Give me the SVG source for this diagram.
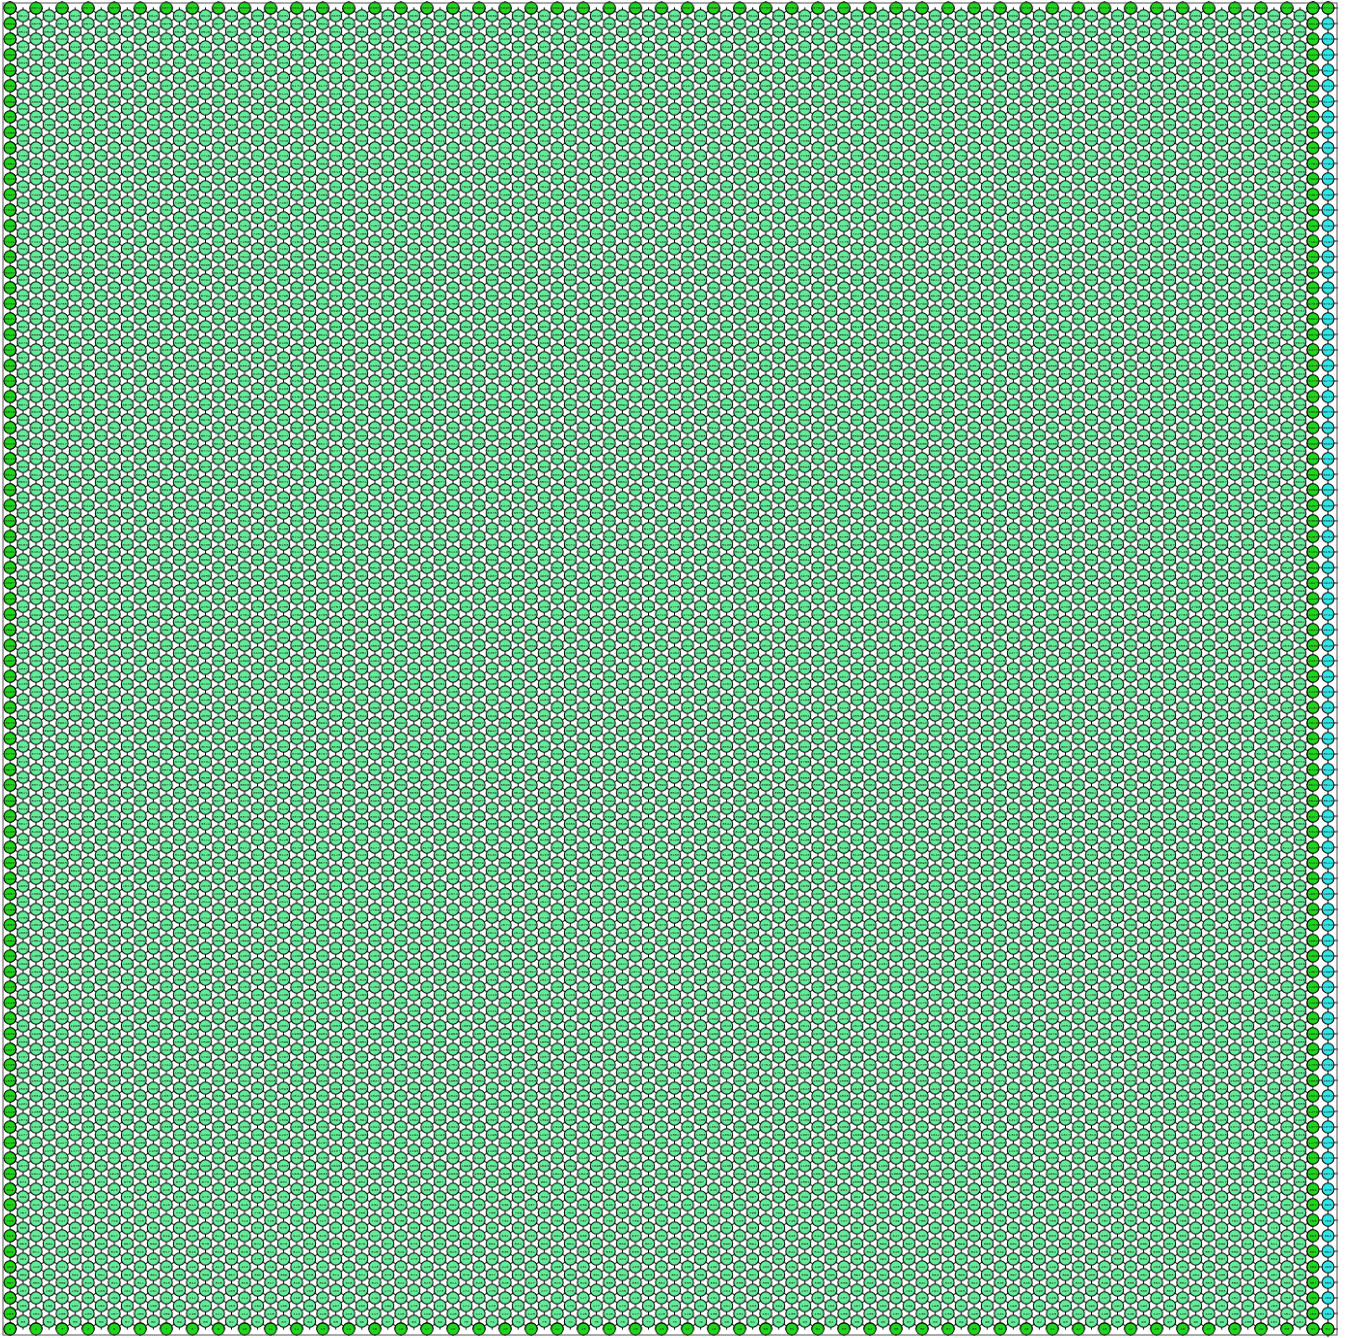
<svg xmlns="http://www.w3.org/2000/svg" width="1348" height="1338" viewBox="0 0 1348 1338">
<defs>
<style>
.e{stroke:#000;stroke-width:1;fill:none}
.n{stroke:#000;stroke-width:1}
.l{fill:#62ec9a}
.g{fill:#1fd61f}
.c{fill:#2ee6e6}
#labels{font-family:"Liberation Mono","DejaVu Sans Mono",monospace;font-size:4px;fill:#2a2a2a;word-spacing:14.06px}
.w1{word-spacing:21.26px}
.w2{word-spacing:18.86px}
.w3{word-spacing:16.46px}
.w4{word-spacing:14.06px}
</style>
<pattern id="lat" patternUnits="userSpaceOnUse" x="10" y="8" width="26.06" height="15.5412">
<path class="e" d="M0 0V15.5412M26.06 0V15.5412M13.03 0V15.5412M0 0L26.06 15.5412M26.06 0L0 15.5412"/>
<g class="n l">
<circle cx="0" cy="0" r="6"/><circle cx="26.06" cy="0" r="6"/><circle cx="0" cy="15.5412" r="6"/><circle cx="26.06" cy="15.5412" r="6"/><circle cx="13.03" cy="7.7706" r="6"/>
</g>
</pattern>
<pattern id="lcol" patternUnits="userSpaceOnUse" x="3" y="8" width="14" height="15.5412">
<path class="e" d="M0 0H7M0 15.5412H7"/>
<g class="n g"><circle cx="7" cy="0" r="6"/><circle cx="7" cy="15.5412" r="6"/></g>
</pattern>
<pattern id="rcol" patternUnits="userSpaceOnUse" x="1306" y="8" width="32" height="15.5412">
<path class="e" d="M7 0H32M7 15.5412H32M22 0V15.5412"/>
<g class="n g"><circle cx="7" cy="0" r="6"/><circle cx="7" cy="15.5412" r="6"/></g>
<g class="n c"><circle cx="22" cy="0" r="6"/><circle cx="22" cy="15.5412" r="6"/></g>
</pattern>
<pattern id="trow" patternUnits="userSpaceOnUse" x="10" y="1" width="26.06" height="14">
<path class="e" d="M0 0V7M26.06 0V7"/>
<g class="n g"><circle cx="0" cy="7" r="6"/><circle cx="26.06" cy="7" r="6"/></g>
</pattern>
<pattern id="brow" patternUnits="userSpaceOnUse" x="10" y="1322" width="26.06" height="14">
<path class="e" d="M0 7V14M26.06 7V14"/>
<g class="n g"><circle cx="0" cy="7" r="6"/><circle cx="26.06" cy="7" r="6"/></g>
</pattern>
</defs>
<rect x="0" y="0" width="1348" height="1338" fill="#fff"/>
<g id="connectors">
<rect x="9.4" y="7.4" width="1304.2" height="1322.2" fill="url(#lat)"/>
</g>
<g id="boundary">
<rect x="3" y="1" width="14" height="1336" fill="url(#lcol)"/>
<rect x="1306" y="1" width="32" height="1336" fill="url(#rcol)"/>
<rect x="3" y="1" width="1317" height="14" fill="url(#trow)"/>
<rect x="3" y="1322" width="1317" height="14" fill="url(#brow)"/>
<circle class="n g" cx="1328" cy="8" r="6"/>
<circle class="n g" cx="1328" cy="1329" r="6"/>
</g>
<rect x="3" y="3" width="1334" height="1332" fill="none" stroke="#555" stroke-width="1"/>
<g id="labels">
<text class="w1" x="8.8" y="1330.4">1 2 3 4 5 6 7 8 9<tspan class="w2" x="242.14">10 11 12 13 14 15 16 17 18 19 20 21 22 23 24 25 26 27 28 29 30 31 32 33 34 35 36 37 38 39 40 41 42 43 44 45 46 47 48 49 50 51</tspan><tspan x="1325.6">52</tspan></text>
<text class="w2" x="20.63" y="1322.63">53 54 55 56 57 58 59 60 61 62 63 64 65 66 67 68 69 70 71 72 73 74 75 76 77 78 79 80 81 82 83 84 85 86 87 88 89 90 91 92 93 94 95 96 97 98 99<tspan class="w3" x="1244.25">100 101 102</tspan></text>
<text class="w3" x="6.4" y="1314.86">103 104 105 106 107 108 109 110 111 112 113 114 115 116 117 118 119 120 121 122 123 124 125 126 127 128 129 130 131 132 133 134 135 136 137 138 139 140 141 142 143 144 145 146 147 148 149 150 151 152 153<tspan x="1324.4">154</tspan></text>
<text class="w3" x="19.43" y="1307.09">155 156 157 158 159 160 161 162 163 164 165 166 167 168 169 170 171 172 173 174 175 176 177 178 179 180 181 182 183 184 185 186 187 188 189 190 191 192 193 194 195 196 197 198 199 200 201 202 203 204</text>
<text class="w3" x="6.4" y="1299.32">205 206 207 208 209 210 211 212 213 214 215 216 217 218 219 220 221 222 223 224 225 226 227 228 229 230 231 232 233 234 235 236 237 238 239 240 241 242 243 244 245 246 247 248 249 250 251 252 253 254 255<tspan x="1324.4">256</tspan></text>
<text class="w3" x="19.43" y="1291.55">257 258 259 260 261 262 263 264 265 266 267 268 269 270 271 272 273 274 275 276 277 278 279 280 281 282 283 284 285 286 287 288 289 290 291 292 293 294 295 296 297 298 299 300 301 302 303 304 305 306</text>
<text class="w3" x="6.4" y="1283.78">307 308 309 310 311 312 313 314 315 316 317 318 319 320 321 322 323 324 325 326 327 328 329 330 331 332 333 334 335 336 337 338 339 340 341 342 343 344 345 346 347 348 349 350 351 352 353 354 355 356 357<tspan x="1324.4">358</tspan></text>
<text class="w3" x="19.43" y="1276.01">359 360 361 362 363 364 365 366 367 368 369 370 371 372 373 374 375 376 377 378 379 380 381 382 383 384 385 386 387 388 389 390 391 392 393 394 395 396 397 398 399 400 401 402 403 404 405 406 407 408</text>
<text class="w3" x="6.4" y="1268.24">409 410 411 412 413 414 415 416 417 418 419 420 421 422 423 424 425 426 427 428 429 430 431 432 433 434 435 436 437 438 439 440 441 442 443 444 445 446 447 448 449 450 451 452 453 454 455 456 457 458 459<tspan x="1324.4">460</tspan></text>
<text class="w3" x="19.43" y="1260.46">461 462 463 464 465 466 467 468 469 470 471 472 473 474 475 476 477 478 479 480 481 482 483 484 485 486 487 488 489 490 491 492 493 494 495 496 497 498 499 500 501 502 503 504 505 506 507 508 509 510</text>
<text class="w3" x="6.4" y="1252.69">511 512 513 514 515 516 517 518 519 520 521 522 523 524 525 526 527 528 529 530 531 532 533 534 535 536 537 538 539 540 541 542 543 544 545 546 547 548 549 550 551 552 553 554 555 556 557 558 559 560 561<tspan x="1324.4">562</tspan></text>
<text class="w3" x="19.43" y="1244.92">563 564 565 566 567 568 569 570 571 572 573 574 575 576 577 578 579 580 581 582 583 584 585 586 587 588 589 590 591 592 593 594 595 596 597 598 599 600 601 602 603 604 605 606 607 608 609 610 611 612</text>
<text class="w3" x="6.4" y="1237.15">613 614 615 616 617 618 619 620 621 622 623 624 625 626 627 628 629 630 631 632 633 634 635 636 637 638 639 640 641 642 643 644 645 646 647 648 649 650 651 652 653 654 655 656 657 658 659 660 661 662 663<tspan x="1324.4">664</tspan></text>
<text class="w3" x="19.43" y="1229.38">665 666 667 668 669 670 671 672 673 674 675 676 677 678 679 680 681 682 683 684 685 686 687 688 689 690 691 692 693 694 695 696 697 698 699 700 701 702 703 704 705 706 707 708 709 710 711 712 713 714</text>
<text class="w3" x="6.4" y="1221.61">715 716 717 718 719 720 721 722 723 724 725 726 727 728 729 730 731 732 733 734 735 736 737 738 739 740 741 742 743 744 745 746 747 748 749 750 751 752 753 754 755 756 757 758 759 760 761 762 763 764 765<tspan x="1324.4">766</tspan></text>
<text class="w3" x="19.43" y="1213.84">767 768 769 770 771 772 773 774 775 776 777 778 779 780 781 782 783 784 785 786 787 788 789 790 791 792 793 794 795 796 797 798 799 800 801 802 803 804 805 806 807 808 809 810 811 812 813 814 815 816</text>
<text class="w3" x="6.4" y="1206.07">817 818 819 820 821 822 823 824 825 826 827 828 829 830 831 832 833 834 835 836 837 838 839 840 841 842 843 844 845 846 847 848 849 850 851 852 853 854 855 856 857 858 859 860 861 862 863 864 865 866 867<tspan x="1324.4">868</tspan></text>
<text class="w3" x="19.43" y="1198.3">869 870 871 872 873 874 875 876 877 878 879 880 881 882 883 884 885 886 887 888 889 890 891 892 893 894 895 896 897 898 899 900 901 902 903 904 905 906 907 908 909 910 911 912 913 914 915 916 917 918</text>
<text class="w3" x="6.4" y="1190.53">919 920 921 922 923 924 925 926 927 928 929 930 931 932 933 934 935 936 937 938 939 940 941 942 943 944 945 946 947 948 949 950 951 952 953 954 955 956 957 958 959 960 961 962 963 964 965 966 967 968 969<tspan x="1324.4">970</tspan></text>
<text class="w3" x="19.43" y="1182.76">971 972 973 974 975 976 977 978 979 980 981 982 983 984 985 986 987 988 989 990 991 992 993 994 995 996 997 998 999<tspan class="w4" x="773.97">1000 1001 1002 1003 1004 1005 1006 1007 1008 1009 1010 1011 1012 1013 1014 1015 1016 1017 1018 1019 1020</tspan></text>
<text x="5.2" y="1174.99">1021 1022 1023 1024 1025 1026 1027 1028 1029 1030 1031 1032 1033 1034 1035 1036 1037 1038 1039 1040 1041 1042 1043 1044 1045 1046 1047 1048 1049 1050 1051 1052 1053 1054 1055 1056 1057 1058 1059 1060 1061 1062 1063 1064 1065 1066 1067 1068 1069 1070 1071<tspan x="1323.2">1072</tspan></text>
<text x="18.23" y="1167.22">1073 1074 1075 1076 1077 1078 1079 1080 1081 1082 1083 1084 1085 1086 1087 1088 1089 1090 1091 1092 1093 1094 1095 1096 1097 1098 1099 1100 1101 1102 1103 1104 1105 1106 1107 1108 1109 1110 1111 1112 1113 1114 1115 1116 1117 1118 1119 1120 1121 1122</text>
<text x="5.2" y="1159.45">1123 1124 1125 1126 1127 1128 1129 1130 1131 1132 1133 1134 1135 1136 1137 1138 1139 1140 1141 1142 1143 1144 1145 1146 1147 1148 1149 1150 1151 1152 1153 1154 1155 1156 1157 1158 1159 1160 1161 1162 1163 1164 1165 1166 1167 1168 1169 1170 1171 1172 1173<tspan x="1323.2">1174</tspan></text>
<text x="18.23" y="1151.68">1175 1176 1177 1178 1179 1180 1181 1182 1183 1184 1185 1186 1187 1188 1189 1190 1191 1192 1193 1194 1195 1196 1197 1198 1199 1200 1201 1202 1203 1204 1205 1206 1207 1208 1209 1210 1211 1212 1213 1214 1215 1216 1217 1218 1219 1220 1221 1222 1223 1224</text>
<text x="5.2" y="1143.91">1225 1226 1227 1228 1229 1230 1231 1232 1233 1234 1235 1236 1237 1238 1239 1240 1241 1242 1243 1244 1245 1246 1247 1248 1249 1250 1251 1252 1253 1254 1255 1256 1257 1258 1259 1260 1261 1262 1263 1264 1265 1266 1267 1268 1269 1270 1271 1272 1273 1274 1275<tspan x="1323.2">1276</tspan></text>
<text x="18.23" y="1136.14">1277 1278 1279 1280 1281 1282 1283 1284 1285 1286 1287 1288 1289 1290 1291 1292 1293 1294 1295 1296 1297 1298 1299 1300 1301 1302 1303 1304 1305 1306 1307 1308 1309 1310 1311 1312 1313 1314 1315 1316 1317 1318 1319 1320 1321 1322 1323 1324 1325 1326</text>
<text x="5.2" y="1128.36">1327 1328 1329 1330 1331 1332 1333 1334 1335 1336 1337 1338 1339 1340 1341 1342 1343 1344 1345 1346 1347 1348 1349 1350 1351 1352 1353 1354 1355 1356 1357 1358 1359 1360 1361 1362 1363 1364 1365 1366 1367 1368 1369 1370 1371 1372 1373 1374 1375 1376 1377<tspan x="1323.2">1378</tspan></text>
<text x="18.23" y="1120.59">1379 1380 1381 1382 1383 1384 1385 1386 1387 1388 1389 1390 1391 1392 1393 1394 1395 1396 1397 1398 1399 1400 1401 1402 1403 1404 1405 1406 1407 1408 1409 1410 1411 1412 1413 1414 1415 1416 1417 1418 1419 1420 1421 1422 1423 1424 1425 1426 1427 1428</text>
<text x="5.2" y="1112.82">1429 1430 1431 1432 1433 1434 1435 1436 1437 1438 1439 1440 1441 1442 1443 1444 1445 1446 1447 1448 1449 1450 1451 1452 1453 1454 1455 1456 1457 1458 1459 1460 1461 1462 1463 1464 1465 1466 1467 1468 1469 1470 1471 1472 1473 1474 1475 1476 1477 1478 1479<tspan x="1323.2">1480</tspan></text>
<text x="18.23" y="1105.05">1481 1482 1483 1484 1485 1486 1487 1488 1489 1490 1491 1492 1493 1494 1495 1496 1497 1498 1499 1500 1501 1502 1503 1504 1505 1506 1507 1508 1509 1510 1511 1512 1513 1514 1515 1516 1517 1518 1519 1520 1521 1522 1523 1524 1525 1526 1527 1528 1529 1530</text>
<text x="5.2" y="1097.28">1531 1532 1533 1534 1535 1536 1537 1538 1539 1540 1541 1542 1543 1544 1545 1546 1547 1548 1549 1550 1551 1552 1553 1554 1555 1556 1557 1558 1559 1560 1561 1562 1563 1564 1565 1566 1567 1568 1569 1570 1571 1572 1573 1574 1575 1576 1577 1578 1579 1580 1581<tspan x="1323.2">1582</tspan></text>
<text x="18.23" y="1089.51">1583 1584 1585 1586 1587 1588 1589 1590 1591 1592 1593 1594 1595 1596 1597 1598 1599 1600 1601 1602 1603 1604 1605 1606 1607 1608 1609 1610 1611 1612 1613 1614 1615 1616 1617 1618 1619 1620 1621 1622 1623 1624 1625 1626 1627 1628 1629 1630 1631 1632</text>
<text x="5.2" y="1081.74">1633 1634 1635 1636 1637 1638 1639 1640 1641 1642 1643 1644 1645 1646 1647 1648 1649 1650 1651 1652 1653 1654 1655 1656 1657 1658 1659 1660 1661 1662 1663 1664 1665 1666 1667 1668 1669 1670 1671 1672 1673 1674 1675 1676 1677 1678 1679 1680 1681 1682 1683<tspan x="1323.2">1684</tspan></text>
<text x="18.23" y="1073.97">1685 1686 1687 1688 1689 1690 1691 1692 1693 1694 1695 1696 1697 1698 1699 1700 1701 1702 1703 1704 1705 1706 1707 1708 1709 1710 1711 1712 1713 1714 1715 1716 1717 1718 1719 1720 1721 1722 1723 1724 1725 1726 1727 1728 1729 1730 1731 1732 1733 1734</text>
<text x="5.2" y="1066.2">1735 1736 1737 1738 1739 1740 1741 1742 1743 1744 1745 1746 1747 1748 1749 1750 1751 1752 1753 1754 1755 1756 1757 1758 1759 1760 1761 1762 1763 1764 1765 1766 1767 1768 1769 1770 1771 1772 1773 1774 1775 1776 1777 1778 1779 1780 1781 1782 1783 1784 1785<tspan x="1323.2">1786</tspan></text>
<text x="18.23" y="1058.43">1787 1788 1789 1790 1791 1792 1793 1794 1795 1796 1797 1798 1799 1800 1801 1802 1803 1804 1805 1806 1807 1808 1809 1810 1811 1812 1813 1814 1815 1816 1817 1818 1819 1820 1821 1822 1823 1824 1825 1826 1827 1828 1829 1830 1831 1832 1833 1834 1835 1836</text>
<text x="5.2" y="1050.66">1837 1838 1839 1840 1841 1842 1843 1844 1845 1846 1847 1848 1849 1850 1851 1852 1853 1854 1855 1856 1857 1858 1859 1860 1861 1862 1863 1864 1865 1866 1867 1868 1869 1870 1871 1872 1873 1874 1875 1876 1877 1878 1879 1880 1881 1882 1883 1884 1885 1886 1887<tspan x="1323.2">1888</tspan></text>
<text x="18.23" y="1042.89">1889 1890 1891 1892 1893 1894 1895 1896 1897 1898 1899 1900 1901 1902 1903 1904 1905 1906 1907 1908 1909 1910 1911 1912 1913 1914 1915 1916 1917 1918 1919 1920 1921 1922 1923 1924 1925 1926 1927 1928 1929 1930 1931 1932 1933 1934 1935 1936 1937 1938</text>
<text x="5.2" y="1035.12">1939 1940 1941 1942 1943 1944 1945 1946 1947 1948 1949 1950 1951 1952 1953 1954 1955 1956 1957 1958 1959 1960 1961 1962 1963 1964 1965 1966 1967 1968 1969 1970 1971 1972 1973 1974 1975 1976 1977 1978 1979 1980 1981 1982 1983 1984 1985 1986 1987 1988 1989<tspan x="1323.2">1990</tspan></text>
<text x="18.23" y="1027.35">1991 1992 1993 1994 1995 1996 1997 1998 1999 2000 2001 2002 2003 2004 2005 2006 2007 2008 2009 2010 2011 2012 2013 2014 2015 2016 2017 2018 2019 2020 2021 2022 2023 2024 2025 2026 2027 2028 2029 2030 2031 2032 2033 2034 2035 2036 2037 2038 2039 2040</text>
<text x="5.2" y="1019.58">2041 2042 2043 2044 2045 2046 2047 2048 2049 2050 2051 2052 2053 2054 2055 2056 2057 2058 2059 2060 2061 2062 2063 2064 2065 2066 2067 2068 2069 2070 2071 2072 2073 2074 2075 2076 2077 2078 2079 2080 2081 2082 2083 2084 2085 2086 2087 2088 2089 2090 2091<tspan x="1323.2">2092</tspan></text>
<text x="18.23" y="1011.81">2093 2094 2095 2096 2097 2098 2099 2100 2101 2102 2103 2104 2105 2106 2107 2108 2109 2110 2111 2112 2113 2114 2115 2116 2117 2118 2119 2120 2121 2122 2123 2124 2125 2126 2127 2128 2129 2130 2131 2132 2133 2134 2135 2136 2137 2138 2139 2140 2141 2142</text>
<text x="5.2" y="1004.03">2143 2144 2145 2146 2147 2148 2149 2150 2151 2152 2153 2154 2155 2156 2157 2158 2159 2160 2161 2162 2163 2164 2165 2166 2167 2168 2169 2170 2171 2172 2173 2174 2175 2176 2177 2178 2179 2180 2181 2182 2183 2184 2185 2186 2187 2188 2189 2190 2191 2192 2193<tspan x="1323.2">2194</tspan></text>
<text x="18.23" y="996.26">2195 2196 2197 2198 2199 2200 2201 2202 2203 2204 2205 2206 2207 2208 2209 2210 2211 2212 2213 2214 2215 2216 2217 2218 2219 2220 2221 2222 2223 2224 2225 2226 2227 2228 2229 2230 2231 2232 2233 2234 2235 2236 2237 2238 2239 2240 2241 2242 2243 2244</text>
<text x="5.2" y="988.49">2245 2246 2247 2248 2249 2250 2251 2252 2253 2254 2255 2256 2257 2258 2259 2260 2261 2262 2263 2264 2265 2266 2267 2268 2269 2270 2271 2272 2273 2274 2275 2276 2277 2278 2279 2280 2281 2282 2283 2284 2285 2286 2287 2288 2289 2290 2291 2292 2293 2294 2295<tspan x="1323.2">2296</tspan></text>
<text x="18.23" y="980.72">2297 2298 2299 2300 2301 2302 2303 2304 2305 2306 2307 2308 2309 2310 2311 2312 2313 2314 2315 2316 2317 2318 2319 2320 2321 2322 2323 2324 2325 2326 2327 2328 2329 2330 2331 2332 2333 2334 2335 2336 2337 2338 2339 2340 2341 2342 2343 2344 2345 2346</text>
<text x="5.2" y="972.95">2347 2348 2349 2350 2351 2352 2353 2354 2355 2356 2357 2358 2359 2360 2361 2362 2363 2364 2365 2366 2367 2368 2369 2370 2371 2372 2373 2374 2375 2376 2377 2378 2379 2380 2381 2382 2383 2384 2385 2386 2387 2388 2389 2390 2391 2392 2393 2394 2395 2396 2397<tspan x="1323.2">2398</tspan></text>
<text x="18.23" y="965.18">2399 2400 2401 2402 2403 2404 2405 2406 2407 2408 2409 2410 2411 2412 2413 2414 2415 2416 2417 2418 2419 2420 2421 2422 2423 2424 2425 2426 2427 2428 2429 2430 2431 2432 2433 2434 2435 2436 2437 2438 2439 2440 2441 2442 2443 2444 2445 2446 2447 2448</text>
<text x="5.2" y="957.41">2449 2450 2451 2452 2453 2454 2455 2456 2457 2458 2459 2460 2461 2462 2463 2464 2465 2466 2467 2468 2469 2470 2471 2472 2473 2474 2475 2476 2477 2478 2479 2480 2481 2482 2483 2484 2485 2486 2487 2488 2489 2490 2491 2492 2493 2494 2495 2496 2497 2498 2499<tspan x="1323.2">2500</tspan></text>
<text x="18.23" y="949.64">2501 2502 2503 2504 2505 2506 2507 2508 2509 2510 2511 2512 2513 2514 2515 2516 2517 2518 2519 2520 2521 2522 2523 2524 2525 2526 2527 2528 2529 2530 2531 2532 2533 2534 2535 2536 2537 2538 2539 2540 2541 2542 2543 2544 2545 2546 2547 2548 2549 2550</text>
<text x="5.2" y="941.87">2551 2552 2553 2554 2555 2556 2557 2558 2559 2560 2561 2562 2563 2564 2565 2566 2567 2568 2569 2570 2571 2572 2573 2574 2575 2576 2577 2578 2579 2580 2581 2582 2583 2584 2585 2586 2587 2588 2589 2590 2591 2592 2593 2594 2595 2596 2597 2598 2599 2600 2601<tspan x="1323.2">2602</tspan></text>
<text x="18.23" y="934.1">2603 2604 2605 2606 2607 2608 2609 2610 2611 2612 2613 2614 2615 2616 2617 2618 2619 2620 2621 2622 2623 2624 2625 2626 2627 2628 2629 2630 2631 2632 2633 2634 2635 2636 2637 2638 2639 2640 2641 2642 2643 2644 2645 2646 2647 2648 2649 2650 2651 2652</text>
<text x="5.2" y="926.33">2653 2654 2655 2656 2657 2658 2659 2660 2661 2662 2663 2664 2665 2666 2667 2668 2669 2670 2671 2672 2673 2674 2675 2676 2677 2678 2679 2680 2681 2682 2683 2684 2685 2686 2687 2688 2689 2690 2691 2692 2693 2694 2695 2696 2697 2698 2699 2700 2701 2702 2703<tspan x="1323.2">2704</tspan></text>
<text x="18.23" y="918.56">2705 2706 2707 2708 2709 2710 2711 2712 2713 2714 2715 2716 2717 2718 2719 2720 2721 2722 2723 2724 2725 2726 2727 2728 2729 2730 2731 2732 2733 2734 2735 2736 2737 2738 2739 2740 2741 2742 2743 2744 2745 2746 2747 2748 2749 2750 2751 2752 2753 2754</text>
<text x="5.2" y="910.79">2755 2756 2757 2758 2759 2760 2761 2762 2763 2764 2765 2766 2767 2768 2769 2770 2771 2772 2773 2774 2775 2776 2777 2778 2779 2780 2781 2782 2783 2784 2785 2786 2787 2788 2789 2790 2791 2792 2793 2794 2795 2796 2797 2798 2799 2800 2801 2802 2803 2804 2805<tspan x="1323.2">2806</tspan></text>
<text x="18.23" y="903.02">2807 2808 2809 2810 2811 2812 2813 2814 2815 2816 2817 2818 2819 2820 2821 2822 2823 2824 2825 2826 2827 2828 2829 2830 2831 2832 2833 2834 2835 2836 2837 2838 2839 2840 2841 2842 2843 2844 2845 2846 2847 2848 2849 2850 2851 2852 2853 2854 2855 2856</text>
<text x="5.2" y="895.25">2857 2858 2859 2860 2861 2862 2863 2864 2865 2866 2867 2868 2869 2870 2871 2872 2873 2874 2875 2876 2877 2878 2879 2880 2881 2882 2883 2884 2885 2886 2887 2888 2889 2890 2891 2892 2893 2894 2895 2896 2897 2898 2899 2900 2901 2902 2903 2904 2905 2906 2907<tspan x="1323.2">2908</tspan></text>
<text x="18.23" y="887.48">2909 2910 2911 2912 2913 2914 2915 2916 2917 2918 2919 2920 2921 2922 2923 2924 2925 2926 2927 2928 2929 2930 2931 2932 2933 2934 2935 2936 2937 2938 2939 2940 2941 2942 2943 2944 2945 2946 2947 2948 2949 2950 2951 2952 2953 2954 2955 2956 2957 2958</text>
<text x="5.2" y="879.71">2959 2960 2961 2962 2963 2964 2965 2966 2967 2968 2969 2970 2971 2972 2973 2974 2975 2976 2977 2978 2979 2980 2981 2982 2983 2984 2985 2986 2987 2988 2989 2990 2991 2992 2993 2994 2995 2996 2997 2998 2999 3000 3001 3002 3003 3004 3005 3006 3007 3008 3009<tspan x="1323.2">3010</tspan></text>
<text x="18.23" y="871.93">3011 3012 3013 3014 3015 3016 3017 3018 3019 3020 3021 3022 3023 3024 3025 3026 3027 3028 3029 3030 3031 3032 3033 3034 3035 3036 3037 3038 3039 3040 3041 3042 3043 3044 3045 3046 3047 3048 3049 3050 3051 3052 3053 3054 3055 3056 3057 3058 3059 3060</text>
<text x="5.2" y="864.16">3061 3062 3063 3064 3065 3066 3067 3068 3069 3070 3071 3072 3073 3074 3075 3076 3077 3078 3079 3080 3081 3082 3083 3084 3085 3086 3087 3088 3089 3090 3091 3092 3093 3094 3095 3096 3097 3098 3099 3100 3101 3102 3103 3104 3105 3106 3107 3108 3109 3110 3111<tspan x="1323.2">3112</tspan></text>
<text x="18.23" y="856.39">3113 3114 3115 3116 3117 3118 3119 3120 3121 3122 3123 3124 3125 3126 3127 3128 3129 3130 3131 3132 3133 3134 3135 3136 3137 3138 3139 3140 3141 3142 3143 3144 3145 3146 3147 3148 3149 3150 3151 3152 3153 3154 3155 3156 3157 3158 3159 3160 3161 3162</text>
<text x="5.2" y="848.62">3163 3164 3165 3166 3167 3168 3169 3170 3171 3172 3173 3174 3175 3176 3177 3178 3179 3180 3181 3182 3183 3184 3185 3186 3187 3188 3189 3190 3191 3192 3193 3194 3195 3196 3197 3198 3199 3200 3201 3202 3203 3204 3205 3206 3207 3208 3209 3210 3211 3212 3213<tspan x="1323.2">3214</tspan></text>
<text x="18.23" y="840.85">3215 3216 3217 3218 3219 3220 3221 3222 3223 3224 3225 3226 3227 3228 3229 3230 3231 3232 3233 3234 3235 3236 3237 3238 3239 3240 3241 3242 3243 3244 3245 3246 3247 3248 3249 3250 3251 3252 3253 3254 3255 3256 3257 3258 3259 3260 3261 3262 3263 3264</text>
<text x="5.2" y="833.08">3265 3266 3267 3268 3269 3270 3271 3272 3273 3274 3275 3276 3277 3278 3279 3280 3281 3282 3283 3284 3285 3286 3287 3288 3289 3290 3291 3292 3293 3294 3295 3296 3297 3298 3299 3300 3301 3302 3303 3304 3305 3306 3307 3308 3309 3310 3311 3312 3313 3314 3315<tspan x="1323.2">3316</tspan></text>
<text x="18.23" y="825.31">3317 3318 3319 3320 3321 3322 3323 3324 3325 3326 3327 3328 3329 3330 3331 3332 3333 3334 3335 3336 3337 3338 3339 3340 3341 3342 3343 3344 3345 3346 3347 3348 3349 3350 3351 3352 3353 3354 3355 3356 3357 3358 3359 3360 3361 3362 3363 3364 3365 3366</text>
<text x="5.2" y="817.54">3367 3368 3369 3370 3371 3372 3373 3374 3375 3376 3377 3378 3379 3380 3381 3382 3383 3384 3385 3386 3387 3388 3389 3390 3391 3392 3393 3394 3395 3396 3397 3398 3399 3400 3401 3402 3403 3404 3405 3406 3407 3408 3409 3410 3411 3412 3413 3414 3415 3416 3417<tspan x="1323.2">3418</tspan></text>
<text x="18.23" y="809.77">3419 3420 3421 3422 3423 3424 3425 3426 3427 3428 3429 3430 3431 3432 3433 3434 3435 3436 3437 3438 3439 3440 3441 3442 3443 3444 3445 3446 3447 3448 3449 3450 3451 3452 3453 3454 3455 3456 3457 3458 3459 3460 3461 3462 3463 3464 3465 3466 3467 3468</text>
<text x="5.2" y="802">3469 3470 3471 3472 3473 3474 3475 3476 3477 3478 3479 3480 3481 3482 3483 3484 3485 3486 3487 3488 3489 3490 3491 3492 3493 3494 3495 3496 3497 3498 3499 3500 3501 3502 3503 3504 3505 3506 3507 3508 3509 3510 3511 3512 3513 3514 3515 3516 3517 3518 3519<tspan x="1323.2">3520</tspan></text>
<text x="18.23" y="794.23">3521 3522 3523 3524 3525 3526 3527 3528 3529 3530 3531 3532 3533 3534 3535 3536 3537 3538 3539 3540 3541 3542 3543 3544 3545 3546 3547 3548 3549 3550 3551 3552 3553 3554 3555 3556 3557 3558 3559 3560 3561 3562 3563 3564 3565 3566 3567 3568 3569 3570</text>
<text x="5.2" y="786.46">3571 3572 3573 3574 3575 3576 3577 3578 3579 3580 3581 3582 3583 3584 3585 3586 3587 3588 3589 3590 3591 3592 3593 3594 3595 3596 3597 3598 3599 3600 3601 3602 3603 3604 3605 3606 3607 3608 3609 3610 3611 3612 3613 3614 3615 3616 3617 3618 3619 3620 3621<tspan x="1323.2">3622</tspan></text>
<text x="18.23" y="778.69">3623 3624 3625 3626 3627 3628 3629 3630 3631 3632 3633 3634 3635 3636 3637 3638 3639 3640 3641 3642 3643 3644 3645 3646 3647 3648 3649 3650 3651 3652 3653 3654 3655 3656 3657 3658 3659 3660 3661 3662 3663 3664 3665 3666 3667 3668 3669 3670 3671 3672</text>
<text x="5.2" y="770.92">3673 3674 3675 3676 3677 3678 3679 3680 3681 3682 3683 3684 3685 3686 3687 3688 3689 3690 3691 3692 3693 3694 3695 3696 3697 3698 3699 3700 3701 3702 3703 3704 3705 3706 3707 3708 3709 3710 3711 3712 3713 3714 3715 3716 3717 3718 3719 3720 3721 3722 3723<tspan x="1323.2">3724</tspan></text>
<text x="18.23" y="763.15">3725 3726 3727 3728 3729 3730 3731 3732 3733 3734 3735 3736 3737 3738 3739 3740 3741 3742 3743 3744 3745 3746 3747 3748 3749 3750 3751 3752 3753 3754 3755 3756 3757 3758 3759 3760 3761 3762 3763 3764 3765 3766 3767 3768 3769 3770 3771 3772 3773 3774</text>
<text x="5.2" y="755.38">3775 3776 3777 3778 3779 3780 3781 3782 3783 3784 3785 3786 3787 3788 3789 3790 3791 3792 3793 3794 3795 3796 3797 3798 3799 3800 3801 3802 3803 3804 3805 3806 3807 3808 3809 3810 3811 3812 3813 3814 3815 3816 3817 3818 3819 3820 3821 3822 3823 3824 3825<tspan x="1323.2">3826</tspan></text>
<text x="18.23" y="747.61">3827 3828 3829 3830 3831 3832 3833 3834 3835 3836 3837 3838 3839 3840 3841 3842 3843 3844 3845 3846 3847 3848 3849 3850 3851 3852 3853 3854 3855 3856 3857 3858 3859 3860 3861 3862 3863 3864 3865 3866 3867 3868 3869 3870 3871 3872 3873 3874 3875 3876</text>
<text x="5.2" y="739.83">3877 3878 3879 3880 3881 3882 3883 3884 3885 3886 3887 3888 3889 3890 3891 3892 3893 3894 3895 3896 3897 3898 3899 3900 3901 3902 3903 3904 3905 3906 3907 3908 3909 3910 3911 3912 3913 3914 3915 3916 3917 3918 3919 3920 3921 3922 3923 3924 3925 3926 3927<tspan x="1323.2">3928</tspan></text>
<text x="18.23" y="732.06">3929 3930 3931 3932 3933 3934 3935 3936 3937 3938 3939 3940 3941 3942 3943 3944 3945 3946 3947 3948 3949 3950 3951 3952 3953 3954 3955 3956 3957 3958 3959 3960 3961 3962 3963 3964 3965 3966 3967 3968 3969 3970 3971 3972 3973 3974 3975 3976 3977 3978</text>
<text x="5.2" y="724.29">3979 3980 3981 3982 3983 3984 3985 3986 3987 3988 3989 3990 3991 3992 3993 3994 3995 3996 3997 3998 3999 4000 4001 4002 4003 4004 4005 4006 4007 4008 4009 4010 4011 4012 4013 4014 4015 4016 4017 4018 4019 4020 4021 4022 4023 4024 4025 4026 4027 4028 4029<tspan x="1323.2">4030</tspan></text>
<text x="18.23" y="716.52">4031 4032 4033 4034 4035 4036 4037 4038 4039 4040 4041 4042 4043 4044 4045 4046 4047 4048 4049 4050 4051 4052 4053 4054 4055 4056 4057 4058 4059 4060 4061 4062 4063 4064 4065 4066 4067 4068 4069 4070 4071 4072 4073 4074 4075 4076 4077 4078 4079 4080</text>
<text x="5.2" y="708.75">4081 4082 4083 4084 4085 4086 4087 4088 4089 4090 4091 4092 4093 4094 4095 4096 4097 4098 4099 4100 4101 4102 4103 4104 4105 4106 4107 4108 4109 4110 4111 4112 4113 4114 4115 4116 4117 4118 4119 4120 4121 4122 4123 4124 4125 4126 4127 4128 4129 4130 4131<tspan x="1323.2">4132</tspan></text>
<text x="18.23" y="700.98">4133 4134 4135 4136 4137 4138 4139 4140 4141 4142 4143 4144 4145 4146 4147 4148 4149 4150 4151 4152 4153 4154 4155 4156 4157 4158 4159 4160 4161 4162 4163 4164 4165 4166 4167 4168 4169 4170 4171 4172 4173 4174 4175 4176 4177 4178 4179 4180 4181 4182</text>
<text x="5.2" y="693.21">4183 4184 4185 4186 4187 4188 4189 4190 4191 4192 4193 4194 4195 4196 4197 4198 4199 4200 4201 4202 4203 4204 4205 4206 4207 4208 4209 4210 4211 4212 4213 4214 4215 4216 4217 4218 4219 4220 4221 4222 4223 4224 4225 4226 4227 4228 4229 4230 4231 4232 4233<tspan x="1323.2">4234</tspan></text>
<text x="18.23" y="685.44">4235 4236 4237 4238 4239 4240 4241 4242 4243 4244 4245 4246 4247 4248 4249 4250 4251 4252 4253 4254 4255 4256 4257 4258 4259 4260 4261 4262 4263 4264 4265 4266 4267 4268 4269 4270 4271 4272 4273 4274 4275 4276 4277 4278 4279 4280 4281 4282 4283 4284</text>
<text x="5.2" y="677.67">4285 4286 4287 4288 4289 4290 4291 4292 4293 4294 4295 4296 4297 4298 4299 4300 4301 4302 4303 4304 4305 4306 4307 4308 4309 4310 4311 4312 4313 4314 4315 4316 4317 4318 4319 4320 4321 4322 4323 4324 4325 4326 4327 4328 4329 4330 4331 4332 4333 4334 4335<tspan x="1323.2">4336</tspan></text>
<text x="18.23" y="669.9">4337 4338 4339 4340 4341 4342 4343 4344 4345 4346 4347 4348 4349 4350 4351 4352 4353 4354 4355 4356 4357 4358 4359 4360 4361 4362 4363 4364 4365 4366 4367 4368 4369 4370 4371 4372 4373 4374 4375 4376 4377 4378 4379 4380 4381 4382 4383 4384 4385 4386</text>
<text x="5.2" y="662.13">4387 4388 4389 4390 4391 4392 4393 4394 4395 4396 4397 4398 4399 4400 4401 4402 4403 4404 4405 4406 4407 4408 4409 4410 4411 4412 4413 4414 4415 4416 4417 4418 4419 4420 4421 4422 4423 4424 4425 4426 4427 4428 4429 4430 4431 4432 4433 4434 4435 4436 4437<tspan x="1323.2">4438</tspan></text>
<text x="18.23" y="654.36">4439 4440 4441 4442 4443 4444 4445 4446 4447 4448 4449 4450 4451 4452 4453 4454 4455 4456 4457 4458 4459 4460 4461 4462 4463 4464 4465 4466 4467 4468 4469 4470 4471 4472 4473 4474 4475 4476 4477 4478 4479 4480 4481 4482 4483 4484 4485 4486 4487 4488</text>
<text x="5.2" y="646.59">4489 4490 4491 4492 4493 4494 4495 4496 4497 4498 4499 4500 4501 4502 4503 4504 4505 4506 4507 4508 4509 4510 4511 4512 4513 4514 4515 4516 4517 4518 4519 4520 4521 4522 4523 4524 4525 4526 4527 4528 4529 4530 4531 4532 4533 4534 4535 4536 4537 4538 4539<tspan x="1323.2">4540</tspan></text>
<text x="18.23" y="638.82">4541 4542 4543 4544 4545 4546 4547 4548 4549 4550 4551 4552 4553 4554 4555 4556 4557 4558 4559 4560 4561 4562 4563 4564 4565 4566 4567 4568 4569 4570 4571 4572 4573 4574 4575 4576 4577 4578 4579 4580 4581 4582 4583 4584 4585 4586 4587 4588 4589 4590</text>
<text x="5.2" y="631.05">4591 4592 4593 4594 4595 4596 4597 4598 4599 4600 4601 4602 4603 4604 4605 4606 4607 4608 4609 4610 4611 4612 4613 4614 4615 4616 4617 4618 4619 4620 4621 4622 4623 4624 4625 4626 4627 4628 4629 4630 4631 4632 4633 4634 4635 4636 4637 4638 4639 4640 4641<tspan x="1323.2">4642</tspan></text>
<text x="18.23" y="623.28">4643 4644 4645 4646 4647 4648 4649 4650 4651 4652 4653 4654 4655 4656 4657 4658 4659 4660 4661 4662 4663 4664 4665 4666 4667 4668 4669 4670 4671 4672 4673 4674 4675 4676 4677 4678 4679 4680 4681 4682 4683 4684 4685 4686 4687 4688 4689 4690 4691 4692</text>
<text x="5.2" y="615.5">4693 4694 4695 4696 4697 4698 4699 4700 4701 4702 4703 4704 4705 4706 4707 4708 4709 4710 4711 4712 4713 4714 4715 4716 4717 4718 4719 4720 4721 4722 4723 4724 4725 4726 4727 4728 4729 4730 4731 4732 4733 4734 4735 4736 4737 4738 4739 4740 4741 4742 4743<tspan x="1323.2">4744</tspan></text>
<text x="18.23" y="607.73">4745 4746 4747 4748 4749 4750 4751 4752 4753 4754 4755 4756 4757 4758 4759 4760 4761 4762 4763 4764 4765 4766 4767 4768 4769 4770 4771 4772 4773 4774 4775 4776 4777 4778 4779 4780 4781 4782 4783 4784 4785 4786 4787 4788 4789 4790 4791 4792 4793 4794</text>
<text x="5.2" y="599.96">4795 4796 4797 4798 4799 4800 4801 4802 4803 4804 4805 4806 4807 4808 4809 4810 4811 4812 4813 4814 4815 4816 4817 4818 4819 4820 4821 4822 4823 4824 4825 4826 4827 4828 4829 4830 4831 4832 4833 4834 4835 4836 4837 4838 4839 4840 4841 4842 4843 4844 4845<tspan x="1323.2">4846</tspan></text>
<text x="18.23" y="592.19">4847 4848 4849 4850 4851 4852 4853 4854 4855 4856 4857 4858 4859 4860 4861 4862 4863 4864 4865 4866 4867 4868 4869 4870 4871 4872 4873 4874 4875 4876 4877 4878 4879 4880 4881 4882 4883 4884 4885 4886 4887 4888 4889 4890 4891 4892 4893 4894 4895 4896</text>
<text x="5.2" y="584.42">4897 4898 4899 4900 4901 4902 4903 4904 4905 4906 4907 4908 4909 4910 4911 4912 4913 4914 4915 4916 4917 4918 4919 4920 4921 4922 4923 4924 4925 4926 4927 4928 4929 4930 4931 4932 4933 4934 4935 4936 4937 4938 4939 4940 4941 4942 4943 4944 4945 4946 4947<tspan x="1323.2">4948</tspan></text>
<text x="18.23" y="576.65">4949 4950 4951 4952 4953 4954 4955 4956 4957 4958 4959 4960 4961 4962 4963 4964 4965 4966 4967 4968 4969 4970 4971 4972 4973 4974 4975 4976 4977 4978 4979 4980 4981 4982 4983 4984 4985 4986 4987 4988 4989 4990 4991 4992 4993 4994 4995 4996 4997 4998</text>
<text x="5.2" y="568.88">4999 5000 5001 5002 5003 5004 5005 5006 5007 5008 5009 5010 5011 5012 5013 5014 5015 5016 5017 5018 5019 5020 5021 5022 5023 5024 5025 5026 5027 5028 5029 5030 5031 5032 5033 5034 5035 5036 5037 5038 5039 5040 5041 5042 5043 5044 5045 5046 5047 5048 5049<tspan x="1323.2">5050</tspan></text>
<text x="18.23" y="561.11">5051 5052 5053 5054 5055 5056 5057 5058 5059 5060 5061 5062 5063 5064 5065 5066 5067 5068 5069 5070 5071 5072 5073 5074 5075 5076 5077 5078 5079 5080 5081 5082 5083 5084 5085 5086 5087 5088 5089 5090 5091 5092 5093 5094 5095 5096 5097 5098 5099 5100</text>
<text x="5.2" y="553.34">5101 5102 5103 5104 5105 5106 5107 5108 5109 5110 5111 5112 5113 5114 5115 5116 5117 5118 5119 5120 5121 5122 5123 5124 5125 5126 5127 5128 5129 5130 5131 5132 5133 5134 5135 5136 5137 5138 5139 5140 5141 5142 5143 5144 5145 5146 5147 5148 5149 5150 5151<tspan x="1323.2">5152</tspan></text>
<text x="18.23" y="545.57">5153 5154 5155 5156 5157 5158 5159 5160 5161 5162 5163 5164 5165 5166 5167 5168 5169 5170 5171 5172 5173 5174 5175 5176 5177 5178 5179 5180 5181 5182 5183 5184 5185 5186 5187 5188 5189 5190 5191 5192 5193 5194 5195 5196 5197 5198 5199 5200 5201 5202</text>
<text x="5.2" y="537.8">5203 5204 5205 5206 5207 5208 5209 5210 5211 5212 5213 5214 5215 5216 5217 5218 5219 5220 5221 5222 5223 5224 5225 5226 5227 5228 5229 5230 5231 5232 5233 5234 5235 5236 5237 5238 5239 5240 5241 5242 5243 5244 5245 5246 5247 5248 5249 5250 5251 5252 5253<tspan x="1323.2">5254</tspan></text>
<text x="18.23" y="530.03">5255 5256 5257 5258 5259 5260 5261 5262 5263 5264 5265 5266 5267 5268 5269 5270 5271 5272 5273 5274 5275 5276 5277 5278 5279 5280 5281 5282 5283 5284 5285 5286 5287 5288 5289 5290 5291 5292 5293 5294 5295 5296 5297 5298 5299 5300 5301 5302 5303 5304</text>
<text x="5.2" y="522.26">5305 5306 5307 5308 5309 5310 5311 5312 5313 5314 5315 5316 5317 5318 5319 5320 5321 5322 5323 5324 5325 5326 5327 5328 5329 5330 5331 5332 5333 5334 5335 5336 5337 5338 5339 5340 5341 5342 5343 5344 5345 5346 5347 5348 5349 5350 5351 5352 5353 5354 5355<tspan x="1323.2">5356</tspan></text>
<text x="18.23" y="514.49">5357 5358 5359 5360 5361 5362 5363 5364 5365 5366 5367 5368 5369 5370 5371 5372 5373 5374 5375 5376 5377 5378 5379 5380 5381 5382 5383 5384 5385 5386 5387 5388 5389 5390 5391 5392 5393 5394 5395 5396 5397 5398 5399 5400 5401 5402 5403 5404 5405 5406</text>
<text x="5.2" y="506.72">5407 5408 5409 5410 5411 5412 5413 5414 5415 5416 5417 5418 5419 5420 5421 5422 5423 5424 5425 5426 5427 5428 5429 5430 5431 5432 5433 5434 5435 5436 5437 5438 5439 5440 5441 5442 5443 5444 5445 5446 5447 5448 5449 5450 5451 5452 5453 5454 5455 5456 5457<tspan x="1323.2">5458</tspan></text>
<text x="18.23" y="498.95">5459 5460 5461 5462 5463 5464 5465 5466 5467 5468 5469 5470 5471 5472 5473 5474 5475 5476 5477 5478 5479 5480 5481 5482 5483 5484 5485 5486 5487 5488 5489 5490 5491 5492 5493 5494 5495 5496 5497 5498 5499 5500 5501 5502 5503 5504 5505 5506 5507 5508</text>
<text x="5.2" y="491.18">5509 5510 5511 5512 5513 5514 5515 5516 5517 5518 5519 5520 5521 5522 5523 5524 5525 5526 5527 5528 5529 5530 5531 5532 5533 5534 5535 5536 5537 5538 5539 5540 5541 5542 5543 5544 5545 5546 5547 5548 5549 5550 5551 5552 5553 5554 5555 5556 5557 5558 5559<tspan x="1323.2">5560</tspan></text>
<text x="18.23" y="483.4">5561 5562 5563 5564 5565 5566 5567 5568 5569 5570 5571 5572 5573 5574 5575 5576 5577 5578 5579 5580 5581 5582 5583 5584 5585 5586 5587 5588 5589 5590 5591 5592 5593 5594 5595 5596 5597 5598 5599 5600 5601 5602 5603 5604 5605 5606 5607 5608 5609 5610</text>
<text x="5.2" y="475.63">5611 5612 5613 5614 5615 5616 5617 5618 5619 5620 5621 5622 5623 5624 5625 5626 5627 5628 5629 5630 5631 5632 5633 5634 5635 5636 5637 5638 5639 5640 5641 5642 5643 5644 5645 5646 5647 5648 5649 5650 5651 5652 5653 5654 5655 5656 5657 5658 5659 5660 5661<tspan x="1323.2">5662</tspan></text>
<text x="18.23" y="467.86">5663 5664 5665 5666 5667 5668 5669 5670 5671 5672 5673 5674 5675 5676 5677 5678 5679 5680 5681 5682 5683 5684 5685 5686 5687 5688 5689 5690 5691 5692 5693 5694 5695 5696 5697 5698 5699 5700 5701 5702 5703 5704 5705 5706 5707 5708 5709 5710 5711 5712</text>
<text x="5.2" y="460.09">5713 5714 5715 5716 5717 5718 5719 5720 5721 5722 5723 5724 5725 5726 5727 5728 5729 5730 5731 5732 5733 5734 5735 5736 5737 5738 5739 5740 5741 5742 5743 5744 5745 5746 5747 5748 5749 5750 5751 5752 5753 5754 5755 5756 5757 5758 5759 5760 5761 5762 5763<tspan x="1323.2">5764</tspan></text>
<text x="18.23" y="452.32">5765 5766 5767 5768 5769 5770 5771 5772 5773 5774 5775 5776 5777 5778 5779 5780 5781 5782 5783 5784 5785 5786 5787 5788 5789 5790 5791 5792 5793 5794 5795 5796 5797 5798 5799 5800 5801 5802 5803 5804 5805 5806 5807 5808 5809 5810 5811 5812 5813 5814</text>
<text x="5.2" y="444.55">5815 5816 5817 5818 5819 5820 5821 5822 5823 5824 5825 5826 5827 5828 5829 5830 5831 5832 5833 5834 5835 5836 5837 5838 5839 5840 5841 5842 5843 5844 5845 5846 5847 5848 5849 5850 5851 5852 5853 5854 5855 5856 5857 5858 5859 5860 5861 5862 5863 5864 5865<tspan x="1323.2">5866</tspan></text>
<text x="18.23" y="436.78">5867 5868 5869 5870 5871 5872 5873 5874 5875 5876 5877 5878 5879 5880 5881 5882 5883 5884 5885 5886 5887 5888 5889 5890 5891 5892 5893 5894 5895 5896 5897 5898 5899 5900 5901 5902 5903 5904 5905 5906 5907 5908 5909 5910 5911 5912 5913 5914 5915 5916</text>
<text x="5.2" y="429.01">5917 5918 5919 5920 5921 5922 5923 5924 5925 5926 5927 5928 5929 5930 5931 5932 5933 5934 5935 5936 5937 5938 5939 5940 5941 5942 5943 5944 5945 5946 5947 5948 5949 5950 5951 5952 5953 5954 5955 5956 5957 5958 5959 5960 5961 5962 5963 5964 5965 5966 5967<tspan x="1323.2">5968</tspan></text>
<text x="18.23" y="421.24">5969 5970 5971 5972 5973 5974 5975 5976 5977 5978 5979 5980 5981 5982 5983 5984 5985 5986 5987 5988 5989 5990 5991 5992 5993 5994 5995 5996 5997 5998 5999 6000 6001 6002 6003 6004 6005 6006 6007 6008 6009 6010 6011 6012 6013 6014 6015 6016 6017 6018</text>
<text x="5.2" y="413.47">6019 6020 6021 6022 6023 6024 6025 6026 6027 6028 6029 6030 6031 6032 6033 6034 6035 6036 6037 6038 6039 6040 6041 6042 6043 6044 6045 6046 6047 6048 6049 6050 6051 6052 6053 6054 6055 6056 6057 6058 6059 6060 6061 6062 6063 6064 6065 6066 6067 6068 6069<tspan x="1323.2">6070</tspan></text>
<text x="18.23" y="405.7">6071 6072 6073 6074 6075 6076 6077 6078 6079 6080 6081 6082 6083 6084 6085 6086 6087 6088 6089 6090 6091 6092 6093 6094 6095 6096 6097 6098 6099 6100 6101 6102 6103 6104 6105 6106 6107 6108 6109 6110 6111 6112 6113 6114 6115 6116 6117 6118 6119 6120</text>
<text x="5.2" y="397.93">6121 6122 6123 6124 6125 6126 6127 6128 6129 6130 6131 6132 6133 6134 6135 6136 6137 6138 6139 6140 6141 6142 6143 6144 6145 6146 6147 6148 6149 6150 6151 6152 6153 6154 6155 6156 6157 6158 6159 6160 6161 6162 6163 6164 6165 6166 6167 6168 6169 6170 6171<tspan x="1323.2">6172</tspan></text>
<text x="18.23" y="390.16">6173 6174 6175 6176 6177 6178 6179 6180 6181 6182 6183 6184 6185 6186 6187 6188 6189 6190 6191 6192 6193 6194 6195 6196 6197 6198 6199 6200 6201 6202 6203 6204 6205 6206 6207 6208 6209 6210 6211 6212 6213 6214 6215 6216 6217 6218 6219 6220 6221 6222</text>
<text x="5.2" y="382.39">6223 6224 6225 6226 6227 6228 6229 6230 6231 6232 6233 6234 6235 6236 6237 6238 6239 6240 6241 6242 6243 6244 6245 6246 6247 6248 6249 6250 6251 6252 6253 6254 6255 6256 6257 6258 6259 6260 6261 6262 6263 6264 6265 6266 6267 6268 6269 6270 6271 6272 6273<tspan x="1323.2">6274</tspan></text>
<text x="18.23" y="374.62">6275 6276 6277 6278 6279 6280 6281 6282 6283 6284 6285 6286 6287 6288 6289 6290 6291 6292 6293 6294 6295 6296 6297 6298 6299 6300 6301 6302 6303 6304 6305 6306 6307 6308 6309 6310 6311 6312 6313 6314 6315 6316 6317 6318 6319 6320 6321 6322 6323 6324</text>
<text x="5.2" y="366.85">6325 6326 6327 6328 6329 6330 6331 6332 6333 6334 6335 6336 6337 6338 6339 6340 6341 6342 6343 6344 6345 6346 6347 6348 6349 6350 6351 6352 6353 6354 6355 6356 6357 6358 6359 6360 6361 6362 6363 6364 6365 6366 6367 6368 6369 6370 6371 6372 6373 6374 6375<tspan x="1323.2">6376</tspan></text>
<text x="18.23" y="359.08">6377 6378 6379 6380 6381 6382 6383 6384 6385 6386 6387 6388 6389 6390 6391 6392 6393 6394 6395 6396 6397 6398 6399 6400 6401 6402 6403 6404 6405 6406 6407 6408 6409 6410 6411 6412 6413 6414 6415 6416 6417 6418 6419 6420 6421 6422 6423 6424 6425 6426</text>
<text x="5.2" y="351.3">6427 6428 6429 6430 6431 6432 6433 6434 6435 6436 6437 6438 6439 6440 6441 6442 6443 6444 6445 6446 6447 6448 6449 6450 6451 6452 6453 6454 6455 6456 6457 6458 6459 6460 6461 6462 6463 6464 6465 6466 6467 6468 6469 6470 6471 6472 6473 6474 6475 6476 6477<tspan x="1323.2">6478</tspan></text>
<text x="18.23" y="343.53">6479 6480 6481 6482 6483 6484 6485 6486 6487 6488 6489 6490 6491 6492 6493 6494 6495 6496 6497 6498 6499 6500 6501 6502 6503 6504 6505 6506 6507 6508 6509 6510 6511 6512 6513 6514 6515 6516 6517 6518 6519 6520 6521 6522 6523 6524 6525 6526 6527 6528</text>
<text x="5.2" y="335.76">6529 6530 6531 6532 6533 6534 6535 6536 6537 6538 6539 6540 6541 6542 6543 6544 6545 6546 6547 6548 6549 6550 6551 6552 6553 6554 6555 6556 6557 6558 6559 6560 6561 6562 6563 6564 6565 6566 6567 6568 6569 6570 6571 6572 6573 6574 6575 6576 6577 6578 6579<tspan x="1323.2">6580</tspan></text>
<text x="18.23" y="327.99">6581 6582 6583 6584 6585 6586 6587 6588 6589 6590 6591 6592 6593 6594 6595 6596 6597 6598 6599 6600 6601 6602 6603 6604 6605 6606 6607 6608 6609 6610 6611 6612 6613 6614 6615 6616 6617 6618 6619 6620 6621 6622 6623 6624 6625 6626 6627 6628 6629 6630</text>
<text x="5.2" y="320.22">6631 6632 6633 6634 6635 6636 6637 6638 6639 6640 6641 6642 6643 6644 6645 6646 6647 6648 6649 6650 6651 6652 6653 6654 6655 6656 6657 6658 6659 6660 6661 6662 6663 6664 6665 6666 6667 6668 6669 6670 6671 6672 6673 6674 6675 6676 6677 6678 6679 6680 6681<tspan x="1323.2">6682</tspan></text>
<text x="18.23" y="312.45">6683 6684 6685 6686 6687 6688 6689 6690 6691 6692 6693 6694 6695 6696 6697 6698 6699 6700 6701 6702 6703 6704 6705 6706 6707 6708 6709 6710 6711 6712 6713 6714 6715 6716 6717 6718 6719 6720 6721 6722 6723 6724 6725 6726 6727 6728 6729 6730 6731 6732</text>
<text x="5.2" y="304.68">6733 6734 6735 6736 6737 6738 6739 6740 6741 6742 6743 6744 6745 6746 6747 6748 6749 6750 6751 6752 6753 6754 6755 6756 6757 6758 6759 6760 6761 6762 6763 6764 6765 6766 6767 6768 6769 6770 6771 6772 6773 6774 6775 6776 6777 6778 6779 6780 6781 6782 6783<tspan x="1323.2">6784</tspan></text>
<text x="18.23" y="296.91">6785 6786 6787 6788 6789 6790 6791 6792 6793 6794 6795 6796 6797 6798 6799 6800 6801 6802 6803 6804 6805 6806 6807 6808 6809 6810 6811 6812 6813 6814 6815 6816 6817 6818 6819 6820 6821 6822 6823 6824 6825 6826 6827 6828 6829 6830 6831 6832 6833 6834</text>
<text x="5.2" y="289.14">6835 6836 6837 6838 6839 6840 6841 6842 6843 6844 6845 6846 6847 6848 6849 6850 6851 6852 6853 6854 6855 6856 6857 6858 6859 6860 6861 6862 6863 6864 6865 6866 6867 6868 6869 6870 6871 6872 6873 6874 6875 6876 6877 6878 6879 6880 6881 6882 6883 6884 6885<tspan x="1323.2">6886</tspan></text>
<text x="18.23" y="281.37">6887 6888 6889 6890 6891 6892 6893 6894 6895 6896 6897 6898 6899 6900 6901 6902 6903 6904 6905 6906 6907 6908 6909 6910 6911 6912 6913 6914 6915 6916 6917 6918 6919 6920 6921 6922 6923 6924 6925 6926 6927 6928 6929 6930 6931 6932 6933 6934 6935 6936</text>
<text x="5.2" y="273.6">6937 6938 6939 6940 6941 6942 6943 6944 6945 6946 6947 6948 6949 6950 6951 6952 6953 6954 6955 6956 6957 6958 6959 6960 6961 6962 6963 6964 6965 6966 6967 6968 6969 6970 6971 6972 6973 6974 6975 6976 6977 6978 6979 6980 6981 6982 6983 6984 6985 6986 6987<tspan x="1323.2">6988</tspan></text>
<text x="18.23" y="265.83">6989 6990 6991 6992 6993 6994 6995 6996 6997 6998 6999 7000 7001 7002 7003 7004 7005 7006 7007 7008 7009 7010 7011 7012 7013 7014 7015 7016 7017 7018 7019 7020 7021 7022 7023 7024 7025 7026 7027 7028 7029 7030 7031 7032 7033 7034 7035 7036 7037 7038</text>
<text x="5.2" y="258.06">7039 7040 7041 7042 7043 7044 7045 7046 7047 7048 7049 7050 7051 7052 7053 7054 7055 7056 7057 7058 7059 7060 7061 7062 7063 7064 7065 7066 7067 7068 7069 7070 7071 7072 7073 7074 7075 7076 7077 7078 7079 7080 7081 7082 7083 7084 7085 7086 7087 7088 7089<tspan x="1323.2">7090</tspan></text>
<text x="18.23" y="250.29">7091 7092 7093 7094 7095 7096 7097 7098 7099 7100 7101 7102 7103 7104 7105 7106 7107 7108 7109 7110 7111 7112 7113 7114 7115 7116 7117 7118 7119 7120 7121 7122 7123 7124 7125 7126 7127 7128 7129 7130 7131 7132 7133 7134 7135 7136 7137 7138 7139 7140</text>
<text x="5.2" y="242.52">7141 7142 7143 7144 7145 7146 7147 7148 7149 7150 7151 7152 7153 7154 7155 7156 7157 7158 7159 7160 7161 7162 7163 7164 7165 7166 7167 7168 7169 7170 7171 7172 7173 7174 7175 7176 7177 7178 7179 7180 7181 7182 7183 7184 7185 7186 7187 7188 7189 7190 7191<tspan x="1323.2">7192</tspan></text>
<text x="18.23" y="234.75">7193 7194 7195 7196 7197 7198 7199 7200 7201 7202 7203 7204 7205 7206 7207 7208 7209 7210 7211 7212 7213 7214 7215 7216 7217 7218 7219 7220 7221 7222 7223 7224 7225 7226 7227 7228 7229 7230 7231 7232 7233 7234 7235 7236 7237 7238 7239 7240 7241 7242</text>
<text x="5.2" y="226.97">7243 7244 7245 7246 7247 7248 7249 7250 7251 7252 7253 7254 7255 7256 7257 7258 7259 7260 7261 7262 7263 7264 7265 7266 7267 7268 7269 7270 7271 7272 7273 7274 7275 7276 7277 7278 7279 7280 7281 7282 7283 7284 7285 7286 7287 7288 7289 7290 7291 7292 7293<tspan x="1323.2">7294</tspan></text>
<text x="18.23" y="219.2">7295 7296 7297 7298 7299 7300 7301 7302 7303 7304 7305 7306 7307 7308 7309 7310 7311 7312 7313 7314 7315 7316 7317 7318 7319 7320 7321 7322 7323 7324 7325 7326 7327 7328 7329 7330 7331 7332 7333 7334 7335 7336 7337 7338 7339 7340 7341 7342 7343 7344</text>
<text x="5.2" y="211.43">7345 7346 7347 7348 7349 7350 7351 7352 7353 7354 7355 7356 7357 7358 7359 7360 7361 7362 7363 7364 7365 7366 7367 7368 7369 7370 7371 7372 7373 7374 7375 7376 7377 7378 7379 7380 7381 7382 7383 7384 7385 7386 7387 7388 7389 7390 7391 7392 7393 7394 7395<tspan x="1323.2">7396</tspan></text>
<text x="18.23" y="203.66">7397 7398 7399 7400 7401 7402 7403 7404 7405 7406 7407 7408 7409 7410 7411 7412 7413 7414 7415 7416 7417 7418 7419 7420 7421 7422 7423 7424 7425 7426 7427 7428 7429 7430 7431 7432 7433 7434 7435 7436 7437 7438 7439 7440 7441 7442 7443 7444 7445 7446</text>
<text x="5.2" y="195.89">7447 7448 7449 7450 7451 7452 7453 7454 7455 7456 7457 7458 7459 7460 7461 7462 7463 7464 7465 7466 7467 7468 7469 7470 7471 7472 7473 7474 7475 7476 7477 7478 7479 7480 7481 7482 7483 7484 7485 7486 7487 7488 7489 7490 7491 7492 7493 7494 7495 7496 7497<tspan x="1323.2">7498</tspan></text>
<text x="18.23" y="188.12">7499 7500 7501 7502 7503 7504 7505 7506 7507 7508 7509 7510 7511 7512 7513 7514 7515 7516 7517 7518 7519 7520 7521 7522 7523 7524 7525 7526 7527 7528 7529 7530 7531 7532 7533 7534 7535 7536 7537 7538 7539 7540 7541 7542 7543 7544 7545 7546 7547 7548</text>
<text x="5.2" y="180.35">7549 7550 7551 7552 7553 7554 7555 7556 7557 7558 7559 7560 7561 7562 7563 7564 7565 7566 7567 7568 7569 7570 7571 7572 7573 7574 7575 7576 7577 7578 7579 7580 7581 7582 7583 7584 7585 7586 7587 7588 7589 7590 7591 7592 7593 7594 7595 7596 7597 7598 7599<tspan x="1323.2">7600</tspan></text>
<text x="18.23" y="172.58">7601 7602 7603 7604 7605 7606 7607 7608 7609 7610 7611 7612 7613 7614 7615 7616 7617 7618 7619 7620 7621 7622 7623 7624 7625 7626 7627 7628 7629 7630 7631 7632 7633 7634 7635 7636 7637 7638 7639 7640 7641 7642 7643 7644 7645 7646 7647 7648 7649 7650</text>
<text x="5.2" y="164.81">7651 7652 7653 7654 7655 7656 7657 7658 7659 7660 7661 7662 7663 7664 7665 7666 7667 7668 7669 7670 7671 7672 7673 7674 7675 7676 7677 7678 7679 7680 7681 7682 7683 7684 7685 7686 7687 7688 7689 7690 7691 7692 7693 7694 7695 7696 7697 7698 7699 7700 7701<tspan x="1323.2">7702</tspan></text>
<text x="18.23" y="157.04">7703 7704 7705 7706 7707 7708 7709 7710 7711 7712 7713 7714 7715 7716 7717 7718 7719 7720 7721 7722 7723 7724 7725 7726 7727 7728 7729 7730 7731 7732 7733 7734 7735 7736 7737 7738 7739 7740 7741 7742 7743 7744 7745 7746 7747 7748 7749 7750 7751 7752</text>
<text x="5.2" y="149.27">7753 7754 7755 7756 7757 7758 7759 7760 7761 7762 7763 7764 7765 7766 7767 7768 7769 7770 7771 7772 7773 7774 7775 7776 7777 7778 7779 7780 7781 7782 7783 7784 7785 7786 7787 7788 7789 7790 7791 7792 7793 7794 7795 7796 7797 7798 7799 7800 7801 7802 7803<tspan x="1323.2">7804</tspan></text>
<text x="18.23" y="141.5">7805 7806 7807 7808 7809 7810 7811 7812 7813 7814 7815 7816 7817 7818 7819 7820 7821 7822 7823 7824 7825 7826 7827 7828 7829 7830 7831 7832 7833 7834 7835 7836 7837 7838 7839 7840 7841 7842 7843 7844 7845 7846 7847 7848 7849 7850 7851 7852 7853 7854</text>
<text x="5.2" y="133.73">7855 7856 7857 7858 7859 7860 7861 7862 7863 7864 7865 7866 7867 7868 7869 7870 7871 7872 7873 7874 7875 7876 7877 7878 7879 7880 7881 7882 7883 7884 7885 7886 7887 7888 7889 7890 7891 7892 7893 7894 7895 7896 7897 7898 7899 7900 7901 7902 7903 7904 7905<tspan x="1323.2">7906</tspan></text>
<text x="18.23" y="125.96">7907 7908 7909 7910 7911 7912 7913 7914 7915 7916 7917 7918 7919 7920 7921 7922 7923 7924 7925 7926 7927 7928 7929 7930 7931 7932 7933 7934 7935 7936 7937 7938 7939 7940 7941 7942 7943 7944 7945 7946 7947 7948 7949 7950 7951 7952 7953 7954 7955 7956</text>
<text x="5.2" y="118.19">7957 7958 7959 7960 7961 7962 7963 7964 7965 7966 7967 7968 7969 7970 7971 7972 7973 7974 7975 7976 7977 7978 7979 7980 7981 7982 7983 7984 7985 7986 7987 7988 7989 7990 7991 7992 7993 7994 7995 7996 7997 7998 7999 8000 8001 8002 8003 8004 8005 8006 8007<tspan x="1323.2">8008</tspan></text>
<text x="18.23" y="110.42">8009 8010 8011 8012 8013 8014 8015 8016 8017 8018 8019 8020 8021 8022 8023 8024 8025 8026 8027 8028 8029 8030 8031 8032 8033 8034 8035 8036 8037 8038 8039 8040 8041 8042 8043 8044 8045 8046 8047 8048 8049 8050 8051 8052 8053 8054 8055 8056 8057 8058</text>
<text x="5.2" y="102.65">8059 8060 8061 8062 8063 8064 8065 8066 8067 8068 8069 8070 8071 8072 8073 8074 8075 8076 8077 8078 8079 8080 8081 8082 8083 8084 8085 8086 8087 8088 8089 8090 8091 8092 8093 8094 8095 8096 8097 8098 8099 8100 8101 8102 8103 8104 8105 8106 8107 8108 8109<tspan x="1323.2">8110</tspan></text>
<text x="18.23" y="94.87">8111 8112 8113 8114 8115 8116 8117 8118 8119 8120 8121 8122 8123 8124 8125 8126 8127 8128 8129 8130 8131 8132 8133 8134 8135 8136 8137 8138 8139 8140 8141 8142 8143 8144 8145 8146 8147 8148 8149 8150 8151 8152 8153 8154 8155 8156 8157 8158 8159 8160</text>
<text x="5.2" y="87.1">8161 8162 8163 8164 8165 8166 8167 8168 8169 8170 8171 8172 8173 8174 8175 8176 8177 8178 8179 8180 8181 8182 8183 8184 8185 8186 8187 8188 8189 8190 8191 8192 8193 8194 8195 8196 8197 8198 8199 8200 8201 8202 8203 8204 8205 8206 8207 8208 8209 8210 8211<tspan x="1323.2">8212</tspan></text>
<text x="18.23" y="79.33">8213 8214 8215 8216 8217 8218 8219 8220 8221 8222 8223 8224 8225 8226 8227 8228 8229 8230 8231 8232 8233 8234 8235 8236 8237 8238 8239 8240 8241 8242 8243 8244 8245 8246 8247 8248 8249 8250 8251 8252 8253 8254 8255 8256 8257 8258 8259 8260 8261 8262</text>
<text x="5.2" y="71.56">8263 8264 8265 8266 8267 8268 8269 8270 8271 8272 8273 8274 8275 8276 8277 8278 8279 8280 8281 8282 8283 8284 8285 8286 8287 8288 8289 8290 8291 8292 8293 8294 8295 8296 8297 8298 8299 8300 8301 8302 8303 8304 8305 8306 8307 8308 8309 8310 8311 8312 8313<tspan x="1323.2">8314</tspan></text>
<text x="18.23" y="63.79">8315 8316 8317 8318 8319 8320 8321 8322 8323 8324 8325 8326 8327 8328 8329 8330 8331 8332 8333 8334 8335 8336 8337 8338 8339 8340 8341 8342 8343 8344 8345 8346 8347 8348 8349 8350 8351 8352 8353 8354 8355 8356 8357 8358 8359 8360 8361 8362 8363 8364</text>
<text x="5.2" y="56.02">8365 8366 8367 8368 8369 8370 8371 8372 8373 8374 8375 8376 8377 8378 8379 8380 8381 8382 8383 8384 8385 8386 8387 8388 8389 8390 8391 8392 8393 8394 8395 8396 8397 8398 8399 8400 8401 8402 8403 8404 8405 8406 8407 8408 8409 8410 8411 8412 8413 8414 8415<tspan x="1323.2">8416</tspan></text>
<text x="18.23" y="48.25">8417 8418 8419 8420 8421 8422 8423 8424 8425 8426 8427 8428 8429 8430 8431 8432 8433 8434 8435 8436 8437 8438 8439 8440 8441 8442 8443 8444 8445 8446 8447 8448 8449 8450 8451 8452 8453 8454 8455 8456 8457 8458 8459 8460 8461 8462 8463 8464 8465 8466</text>
<text x="5.2" y="40.48">8467 8468 8469 8470 8471 8472 8473 8474 8475 8476 8477 8478 8479 8480 8481 8482 8483 8484 8485 8486 8487 8488 8489 8490 8491 8492 8493 8494 8495 8496 8497 8498 8499 8500 8501 8502 8503 8504 8505 8506 8507 8508 8509 8510 8511 8512 8513 8514 8515 8516 8517<tspan x="1323.2">8518</tspan></text>
<text x="18.23" y="32.71">8519 8520 8521 8522 8523 8524 8525 8526 8527 8528 8529 8530 8531 8532 8533 8534 8535 8536 8537 8538 8539 8540 8541 8542 8543 8544 8545 8546 8547 8548 8549 8550 8551 8552 8553 8554 8555 8556 8557 8558 8559 8560 8561 8562 8563 8564 8565 8566 8567 8568</text>
<text x="5.2" y="24.94">8569 8570 8571 8572 8573 8574 8575 8576 8577 8578 8579 8580 8581 8582 8583 8584 8585 8586 8587 8588 8589 8590 8591 8592 8593 8594 8595 8596 8597 8598 8599 8600 8601 8602 8603 8604 8605 8606 8607 8608 8609 8610 8611 8612 8613 8614 8615 8616 8617 8618 8619<tspan x="1323.2">8620</tspan></text>
<text x="18.23" y="17.17">8621 8622 8623 8624 8625 8626 8627 8628 8629 8630 8631 8632 8633 8634 8635 8636 8637 8638 8639 8640 8641 8642 8643 8644 8645 8646 8647 8648 8649 8650 8651 8652 8653 8654 8655 8656 8657 8658 8659 8660 8661 8662 8663 8664 8665 8666 8667 8668 8669 8670</text>
<text x="5.2" y="9.4">8671 8672 8673 8674 8675 8676 8677 8678 8679 8680 8681 8682 8683 8684 8685 8686 8687 8688 8689 8690 8691 8692 8693 8694 8695 8696 8697 8698 8699 8700 8701 8702 8703 8704 8705 8706 8707 8708 8709 8710 8711 8712 8713 8714 8715 8716 8717 8718 8719 8720 8721<tspan x="1323.2">8722</tspan></text>
</g>
</svg>
